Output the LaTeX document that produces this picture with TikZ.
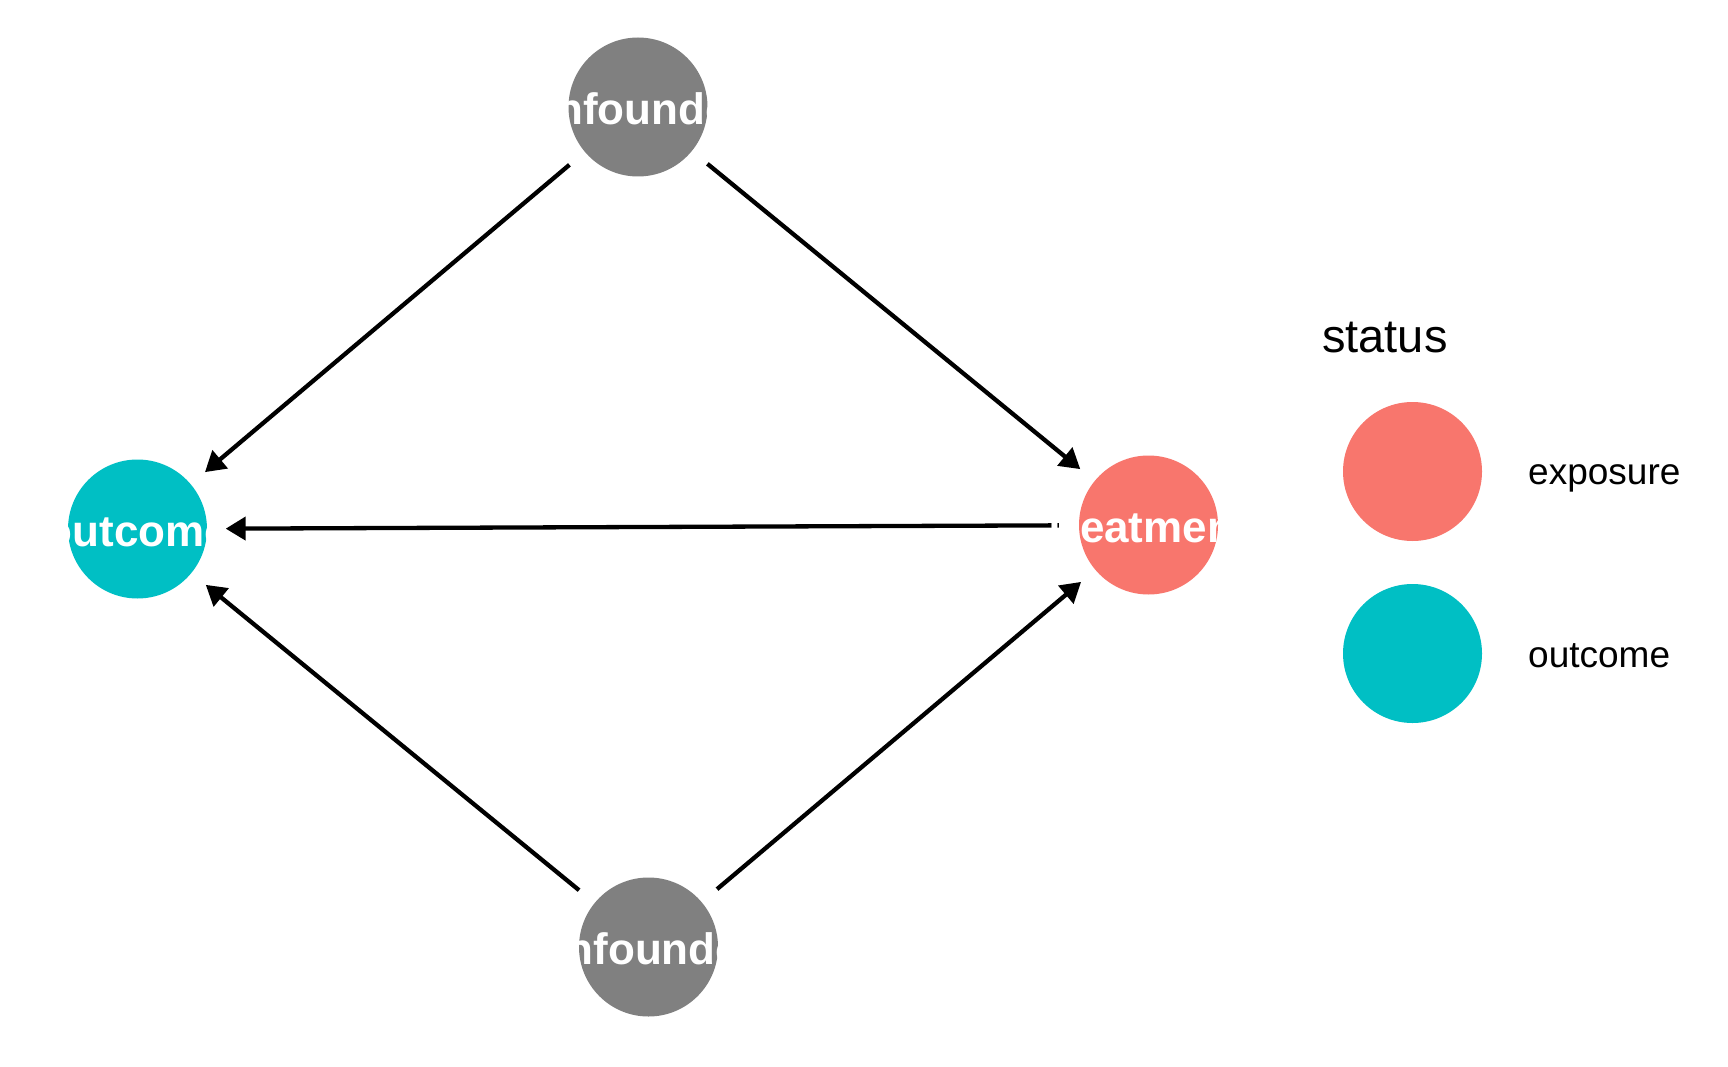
\documentclass[tikz,border=0pt]{standalone}
\usepackage{fontspec}
\setmainfont{Liberation Sans}
\usetikzlibrary{arrows.meta}
\definecolor{expc}{HTML}{F8766D}
\definecolor{outc}{HTML}{00BFC4}
\definecolor{confc}{HTML}{808080}
\begin{document}
\begin{tikzpicture}[x=1pt,y=-1pt,
  dot/.style={circle,minimum size=139pt,inner sep=0pt,draw=none},
  lab/.style={text=white,font=\fontsize{44}{50}\selectfont\bfseries,anchor=base,inner sep=0pt},
  edge/.style={line width=4.3pt,-{Triangle[length=20pt,width=23pt]},shorten <=20pt,shorten >=18.5pt},
  legtitle/.style={anchor=base west,inner sep=0pt,font=\fontsize{47}{56}\selectfont},
  leglab/.style={anchor=base west,inner sep=0pt,font=\fontsize{37}{44}\selectfont}]
\useasboundingbox (0,0) rectangle (1728,1067);
\fill[white] (0,0) rectangle (1728,1067);
% nodes
\node[dot,fill=confc] (c1) at (638,107) {};
\node[dot,fill=confc] (c2) at (648.5,947) {};
\node[dot,fill=outc] (o) at (137.5,529) {};
\node[dot,fill=expc] (t) at (1148.5,525) {};
% edges
\draw[edge] (c1) -- (o);
\draw[edge] (c1) -- (t);
\draw[edge] (t) -- (o);
\draw[edge] (c2) -- (o);
\draw[edge] (c2) -- (t);
% labels
\node[lab] (c1l) at (638,124.5) {confounder1};
\node[lab] (c2l) at (648.5,964.5) {confounder2};
\node[lab] (ol) at (137.5,546.5) {outcome};
\node[lab] (tl) at (1148.5,542.5) {treatment};
% legend
\node[legtitle] (st) at (1322,352) {status};
\node[dot,fill=expc] (le) at (1412.5,471.5) {};
\node[dot,fill=outc] (lo) at (1412.5,653.5) {};
\node[leglab] (lex) at (1528,484) {exposure};
\node[leglab] (lou) at (1528,667) {outcome};
\end{tikzpicture}
\end{document}
